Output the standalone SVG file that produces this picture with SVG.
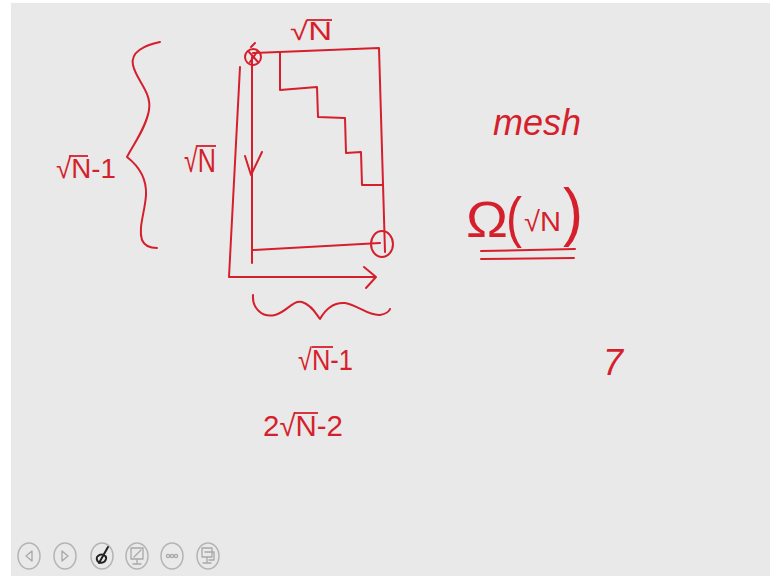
<svg xmlns="http://www.w3.org/2000/svg" width="770" height="576" viewBox="0 0 770 576">
<style>
.ink{fill:none;stroke:#d61f2c;stroke-width:2;stroke-linecap:round;stroke-linejoin:round}
.bar{fill:none;stroke:#d61f2c;stroke-width:1.8;stroke-linecap:butt}
.txt{fill:#d61f2c;font-family:"Liberation Sans","DejaVu Sans",sans-serif}
.btn{fill:none;stroke:#b4b4b4;stroke-width:1.5}
.ico{fill:none;stroke:#a8a8a8;stroke-width:1.3;stroke-linecap:round;stroke-linejoin:round}
</style>
<rect x="0" y="0" width="770" height="576" fill="#ffffff"/>
<rect x="11" y="3" width="759" height="573" fill="#e9e9e9"/>

<g id="grid">
<path class="ink" d="M253,53 L379,48 L385,252"/>
<path class="ink" d="M280,52 L280,90 L317,87 L318,117 L345,118 L346,153 L361,152 L362,185 L383,185"/>
<path class="ink" d="M253,250 L380,243"/>
</g>
<g id="start-node">
<circle class="ink" cx="253" cy="57" r="8"/>
<path class="ink" d="M249,52 L258,62 M257,52 L250,62 M251,47 L255,43"/>
</g>
<g id="end-node">
<ellipse class="ink" cx="382" cy="244" rx="11" ry="13"/>
</g>
<g id="connectors">
<path class="ink" d="M252,57 L252,263"/>
<path class="ink" d="M245,156 L251,175 L262,152"/>
<path class="ink" d="M240,67 L229,277 L375,277"/>
<path class="ink" d="M364,267 L376,277 L366,288"/>
</g>
<g id="left-brace">
<path class="ink" d="M160,42 C145,45 130,52 133,65 C136,80 152,92 149,110 C146,128 133,145 127,157 C136,164 147,175 146,195 C145,212 138,228 142,240 C145,247 152,248 157,248"/>
</g>
<g id="bottom-brace">
<path class="ink" d="M253,295 C252,308 262,318 275,315 C287,312 292,300 302,302 C312,305 316,314 320,319 C325,310 333,302 345,303 C358,305 368,316 380,315 C385,314 389,312 390,309"/>
</g>

<g id="label-left">
<text class="txt" x="56" y="178" font-size="28" textLength="60" lengthAdjust="spacingAndGlyphs">√N-1</text>
<path class="bar" d="M69,156 L88,156"/>
</g>
<g id="label-mid">
<text class="txt" x="184" y="172" font-size="34" textLength="32" lengthAdjust="spacingAndGlyphs">√N</text>
<path class="bar" d="M197,146 L216,146"/>
</g>
<g id="label-top">
<text class="txt" x="290" y="40" font-size="26" textLength="42" lengthAdjust="spacingAndGlyphs">√N</text>
<path class="bar" d="M307,20 L332,20"/>
</g>
<g id="label-bottom">
<text class="txt" x="298" y="370" font-size="30" textLength="55" lengthAdjust="spacingAndGlyphs">√N-1</text>
<path class="bar" d="M312,347 L333,347"/>
</g>
<g id="label-total">
<text class="txt" x="263" y="436" font-size="30" textLength="80" lengthAdjust="spacingAndGlyphs">2√N-2</text>
<path class="bar" d="M294,413 L318,413"/>
</g>
<g id="label-mesh">
<text class="txt" x="493" y="135" font-size="36" font-style="italic" textLength="88" lengthAdjust="spacingAndGlyphs">mesh</text>
</g>
<g id="label-omega">
<text class="txt" x="466" y="237" font-size="50" textLength="42" lengthAdjust="spacingAndGlyphs">Ω</text>
<text class="txt" x="506" y="236" font-size="56" textLength="16" lengthAdjust="spacingAndGlyphs">(</text>
<text class="txt" x="524" y="231" font-size="28" textLength="37" lengthAdjust="spacingAndGlyphs">√N</text>
<text class="txt" x="563" y="234" font-size="64" textLength="20" lengthAdjust="spacingAndGlyphs">)</text>
<path class="ink" d="M481,251 L575,249 M481,259 L574,258"/>
</g>
<g id="label-seven">
<text class="txt" x="603" y="375" font-size="36" font-style="italic" textLength="20" lengthAdjust="spacingAndGlyphs">7</text>
</g>

<g id="toolbar">
<ellipse class="btn" cx="29" cy="556" rx="11" ry="13"/>
<path class="ico" d="M32,551 L26,556 L32,561 Z"/>
<ellipse class="btn" cx="65" cy="556" rx="11" ry="13"/>
<path class="ico" d="M62,551 L68,556 L62,561 Z"/>
<ellipse class="btn" cx="102" cy="556" rx="11" ry="13" stroke="#909090"/>
<path fill="none" stroke="#222" stroke-width="2" stroke-linecap="round" d="M97,557 C95,563 104,565 106,559 C107,555 101,553 98,556 M99,563 L108,547"/>
<ellipse class="btn" cx="137" cy="556" rx="11" ry="13"/>
<path class="ico" d="M131,548 L143,548 L143,559 L131,559 Z M137,559 L137,563 M133,564 L141,564 M134,557 L141,550"/>
<ellipse class="btn" cx="172" cy="556" rx="11" ry="13"/>
<circle class="ico" cx="168" cy="556" r="1.6"/>
<circle class="ico" cx="172" cy="556" r="1.6"/>
<circle class="ico" cx="176" cy="556" r="1.6"/>
<ellipse class="btn" cx="208" cy="556" rx="11" ry="13"/>
<path class="ico" d="M202,548 L212,548 L212,557 L202,557 Z M207,557 L207,562 M203,563 L211,563 M205,552 L214,552 L214,560 L209,560"/>
</g>
</svg>
